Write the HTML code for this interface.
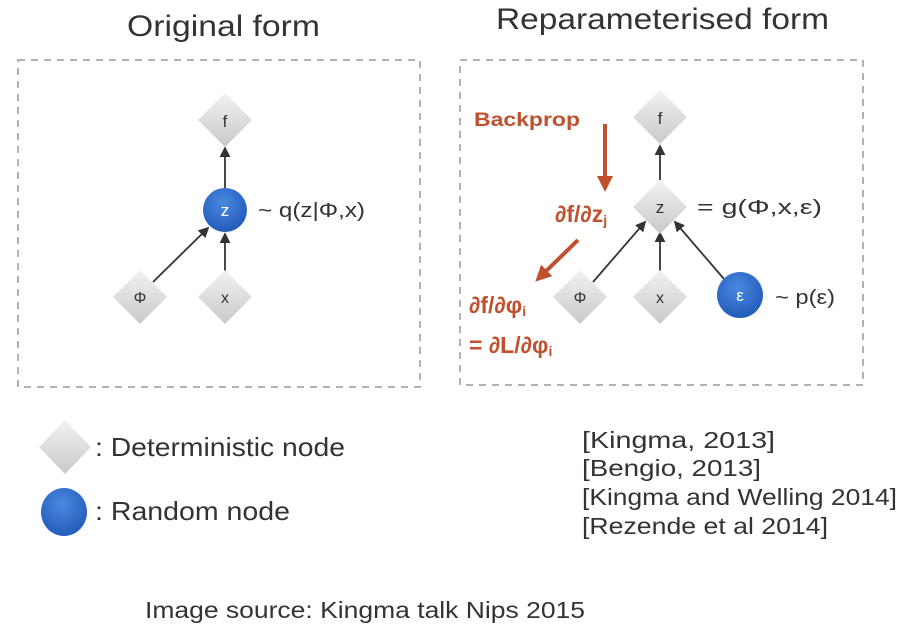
<!DOCTYPE html>
<html><head><meta charset="utf-8"><style>
html,body{margin:0;padding:0;background:#fff;width:922px;height:632px;overflow:hidden}
svg{display:block}
text{font-family:"Liberation Sans",sans-serif;fill:#333}
</style></head><body>
<svg width="922" height="632" viewBox="0 0 922 632">
<defs>
<linearGradient id="dg" x1="0" y1="0" x2="0" y2="1"><stop offset="0" stop-color="#f2f2f2"/><stop offset="1" stop-color="#c9c9c9"/></linearGradient>
<radialGradient id="bg" cx="0.45" cy="0.35" r="0.7"><stop offset="0" stop-color="#4a8ae0"/><stop offset="1" stop-color="#2058b8"/></radialGradient>
<marker id="ah" markerWidth="6" markerHeight="6" refX="5" refY="3" orient="auto"><path d="M0,0 L6,3 L0,6 z" fill="#333"/></marker>
<marker id="rh" markerWidth="4" markerHeight="4" refX="2" refY="2" orient="auto"><path d="M0,0 L4,2 L0,4 z" fill="#c0502e"/></marker>
<g id="dia"><path d="M0,-27 L27,0 L0,27 L-27,0 z" fill="url(#dg)"/></g>
</defs>
<text x="127" y="36" font-size="30" textLength="193" lengthAdjust="spacingAndGlyphs">Original form</text>
<text x="496" y="29" font-size="30" textLength="333" lengthAdjust="spacingAndGlyphs">Reparameterised form</text>
<rect x="18" y="60" width="402" height="327" fill="none" stroke="#999" stroke-width="1.5" stroke-dasharray="7,6"/>
<rect x="460" y="60" width="403" height="325" fill="none" stroke="#999" stroke-width="1.5" stroke-dasharray="7,6"/>
<g stroke="#333" stroke-width="1.8" fill="none">
<line x1="225" y1="188" x2="225" y2="148" marker-end="url(#ah)"/>
<line x1="225" y1="272" x2="225" y2="234" marker-end="url(#ah)"/>
<line x1="153" y1="282" x2="208" y2="228" marker-end="url(#ah)"/>
</g>
<use href="#dia" x="225" y="120"/><text x="225" y="127" font-size="17" text-anchor="middle">f</text>
<circle cx="225" cy="210" r="22" fill="url(#bg)"/><text x="225" y="216" font-size="17" text-anchor="middle" style="fill:#fff">z</text>
<use href="#dia" x="140" y="297"/><text x="140" y="303" font-size="16" text-anchor="middle">Φ</text>
<use href="#dia" x="225" y="297"/><text x="225" y="303" font-size="16" text-anchor="middle">x</text>
<text x="258" y="217" font-size="20" textLength="107" lengthAdjust="spacingAndGlyphs">~ q(z|Φ,x)</text>
<g stroke="#333" stroke-width="1.8" fill="none">
<line x1="660" y1="180" x2="660" y2="146" marker-end="url(#ah)"/>
<line x1="660" y1="272" x2="660" y2="233" marker-end="url(#ah)"/>
<line x1="593" y1="282" x2="645" y2="222" marker-end="url(#ah)"/>
<line x1="724" y1="279" x2="675" y2="222" marker-end="url(#ah)"/>
</g>
<use href="#dia" x="660" y="117"/><text x="660" y="124" font-size="17" text-anchor="middle">f</text>
<use href="#dia" x="660" y="207"/><text x="660" y="213" font-size="17" text-anchor="middle">z</text>
<use href="#dia" x="580" y="297"/><text x="580" y="303" font-size="16" text-anchor="middle">Φ</text>
<use href="#dia" x="660" y="297"/><text x="660" y="303" font-size="16" text-anchor="middle">x</text>
<circle cx="740" cy="295" r="23" fill="url(#bg)"/><text x="740" y="301" font-size="17" text-anchor="middle" style="fill:#fff">ε</text>
<text x="697" y="214" font-size="20" textLength="125" lengthAdjust="spacingAndGlyphs">= g(Φ,x,ε)</text>
<text x="775" y="304" font-size="20" textLength="60" lengthAdjust="spacingAndGlyphs">~ p(ε)</text>
<text x="474" y="126" font-size="19" font-weight="bold" textLength="106" lengthAdjust="spacingAndGlyphs" style="fill:#c0502e">Backprop</text>
<g stroke="#c0502e" stroke-width="4" fill="none">
<line x1="605" y1="124" x2="605" y2="184" marker-end="url(#rh)"/>
<line x1="578" y1="240" x2="541" y2="276" marker-end="url(#rh)"/>
</g>
<g font-family="Liberation Serif,serif" font-weight="bold">
<text x="555" y="222" font-size="23" style="fill:#c0502e">∂f/∂z<tspan font-size="14" dy="3">j</tspan></text>
<text x="469" y="313" font-size="23" style="fill:#c0502e">∂f/∂φ<tspan font-size="14" dy="3">i</tspan></text>
<text x="469" y="353" font-size="23" style="fill:#c0502e">= ∂L/∂φ<tspan font-size="14" dy="3">i</tspan></text>
</g>
<path d="M65,420 L91,447 L65,474 L39,447 z" fill="url(#dg)"/>
<text x="95" y="456" font-size="26" textLength="250" lengthAdjust="spacingAndGlyphs">: Deterministic node</text>
<ellipse cx="64" cy="512" rx="23" ry="24" fill="url(#bg)"/>
<text x="95" y="520" font-size="26" textLength="195" lengthAdjust="spacingAndGlyphs">: Random node</text>
<g font-size="23">
<text x="582" y="448" textLength="193" lengthAdjust="spacingAndGlyphs">[Kingma, 2013]</text>
<text x="582" y="476" textLength="179" lengthAdjust="spacingAndGlyphs">[Bengio, 2013]</text>
<text x="582" y="505" textLength="315" lengthAdjust="spacingAndGlyphs">[Kingma and Welling 2014]</text>
<text x="582" y="534" textLength="246" lengthAdjust="spacingAndGlyphs">[Rezende et al 2014]</text>
</g>
<text x="145" y="618" font-size="23" textLength="440" lengthAdjust="spacingAndGlyphs">Image source: Kingma talk Nips 2015</text>
</svg>
</body></html>
